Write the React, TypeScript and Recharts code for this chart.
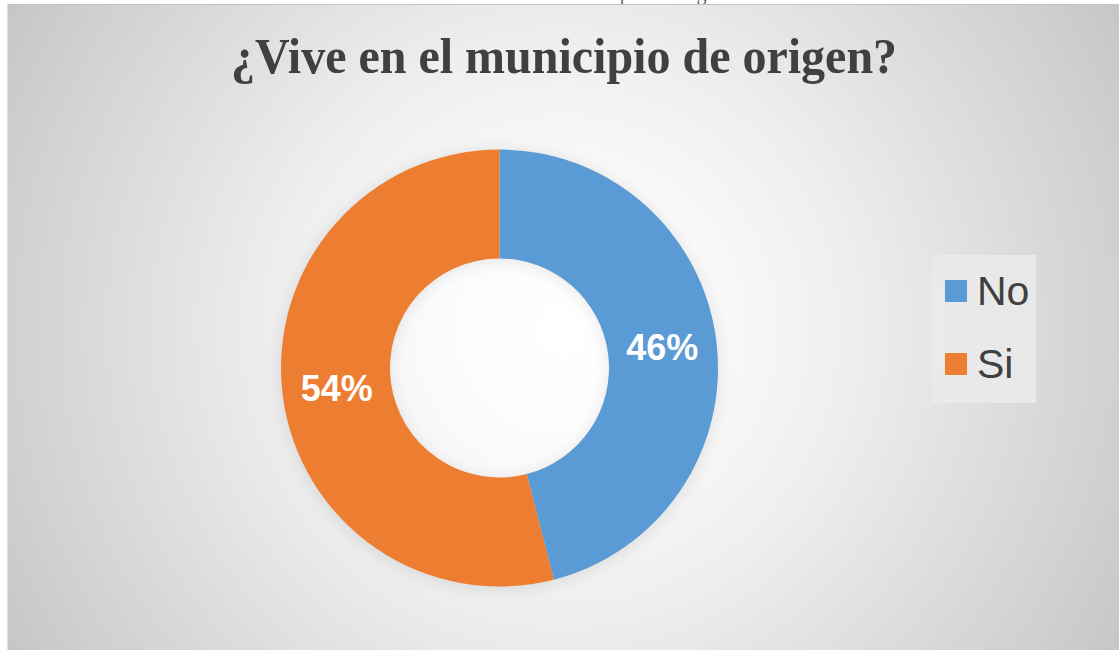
import React from 'react';
import { PieChart, Pie, Cell, Legend } from 'recharts';

const categories = ['No', 'Si'];
const percentages = [46, 54];
const colors = ['#5B9BD5', '#ED7D31'];

const data = categories.map((name, i) => ({ name, value: percentages[i] }));

const RADIAN = Math.PI / 180;

function renderLabel(props: any) {
  const { cx, cy, midAngle, innerRadius, outerRadius, value } = props;
  const r = (innerRadius + outerRadius) / 2;
  const x = cx + r * Math.cos(-midAngle * RADIAN);
  const y = cy + r * Math.sin(-midAngle * RADIAN);
  return (
    <text
      x={x}
      y={y}
      fill="#ffffff"
      textAnchor="middle"
      dominantBaseline="central"
      fontFamily="'Liberation Sans', Arial, sans-serif"
      fontWeight="bold"
      fontSize={36}
    >
      {value}%
    </text>
  );
}

function renderLegend() {
  return (
    <div
      style={{
        width: 104,
        height: 148,
        background: 'rgba(236,236,236,0.75)',
        fontFamily: "'Liberation Sans', Arial, sans-serif",
        color: '#404040',
        position: 'relative',
      }}
    >
      {categories.map((c, i) => (
        <div
          key={c}
          style={{
            position: 'absolute',
            left: 13,
            top: 16 + i * 73,
            display: 'flex',
            alignItems: 'center',
            height: 40,
          }}
        >
          <span style={{ width: 22, height: 22, background: colors[i], display: 'inline-block', marginRight: 10 }} />
          <span style={{ fontSize: 41, lineHeight: '40px' }}>{c}</span>
        </div>
      ))}
    </div>
  );
}

export default function App() {
  return (
    <div style={{ position: 'fixed', left: 0, top: 0, width: 1119, height: 650, background: '#ffffff', overflow: 'hidden' }}>
      <style>{`.donut-shadow { filter: blur(6px); opacity: 0.3; }`}</style>
      <div
        style={{
          position: 'absolute',
          left: 0,
          top: -17,
          width: 1119,
          textAlign: 'center',
          fontFamily: "'Liberation Serif', 'Times New Roman', serif",
          fontSize: 20,
          lineHeight: '20px',
          color: '#666',
        }}
      >
        Gráfica 4. Vive en el municipio de origen
      </div>
      <div
        style={{
          position: 'absolute',
          left: 7,
          top: 4,
          width: 1112,
          height: 646,
          borderTop: '1px solid #c4c4c4',
          borderLeft: '1px solid #e2e2e2',
          background:
            'radial-gradient(circle farthest-corner at 50% 50%, #ffffff 0%, #fbfbfb 20%, #eeeeee 45%, #dcdcdc 70%, #d0d0d0 87%, #c6c6c6 100%)',
        }}
      >
        <div
          style={{
            position: 'absolute',
            left: 0,
            top: 25,
            width: 1112,
            textAlign: 'center',
            fontFamily: "'Liberation Serif', 'Times New Roman', serif",
            fontWeight: 'bold',
            fontSize: 48,
            lineHeight: '52px',
            color: '#404040',
            transform: 'scaleY(1.06)',
          }}
        >
          ¿Vive en el municipio de origen?
        </div>
        <PieChart width={1111} height={645} style={{ position: 'absolute', left: 0, top: 0 }}>
          <Pie
            data={data}
            dataKey="value"
            nameKey="name"
            className="donut-shadow"
            cx={486.5}
            cy={360}
            innerRadius={109.5}
            outerRadius={220}
            startAngle={90}
            endAngle={-270}
            stroke="none"
            fill="#000000"
            isAnimationActive={false}
          />
          <Pie
            data={data}
            dataKey="value"
            nameKey="name"
            cx={486.5}
            cy={358}
            innerRadius={109.5}
            outerRadius={218.5}
            startAngle={90}
            endAngle={-270}
            stroke="none"
            label={renderLabel}
            labelLine={false}
            isAnimationActive={false}
          >
            {data.map((d, i) => (
              <Cell key={d.name} fill={colors[i]} />
            ))}
          </Pie>
          <Legend
            content={renderLegend}
            wrapperStyle={{ left: 924, top: 250, width: 104, height: 148 }}
          />
        </PieChart>
      </div>
    </div>
  );
}
